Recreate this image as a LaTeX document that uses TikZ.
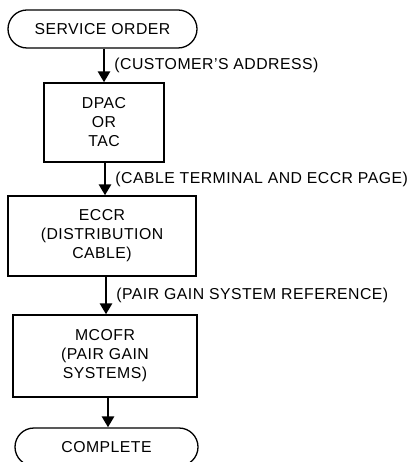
\documentclass[tikz,border=0pt]{standalone}
\usepackage{fontspec}
\setmainfont{Liberation Sans}[LetterSpace=3]
\usetikzlibrary{arrows.meta}
\begin{document}
\begin{tikzpicture}[x=1bp,y=-1bp,
  every node/.style={font=\fontsize{15.8bp}{19bp}\selectfont, inner sep=0pt},
  term/.style={draw, line width=1.3bp, rounded corners=19bp, minimum width=#1, minimum height=38bp},
  box/.style={draw, line width=1.3bp, align=center, minimum width=#1},
  flow/.style={line width=2.8bp, -{Triangle[length=11bp,width=12bp]}},
  lbl/.style={anchor=west, xshift=9bp}
]
\useasboundingbox (0,0) rectangle (412,462);
\node[term=189bp] (so) at (102.5,29) {SERVICE ORDER};
\node[box=120bp, minimum height=79bp] (dpac) at (104,122.5) {DPAC\\OR\\TAC};
\node[box=188bp, minimum height=80bp] (eccr) at (102,236) {ECCR\\(DISTRIBUTION\\CABLE)};
\node[box=184bp, minimum height=82bp] (mcofr) at (105,356) {MCOFR\\(PAIR GAIN\\SYSTEMS)};
\node[term=183bp] (done) at (106.5,447) {COMPLETE};
\draw[flow] (so.south -| 104,0) -- (dpac.north -| 104,0) node[midway, lbl] {(CUSTOMER'S ADDRESS)};
\draw[flow] (dpac.south -| 105,0) -- (eccr.north -| 105,0) node[midway, lbl] {(CABLE TERMINAL AND ECCR PAGE)};
\draw[flow] (eccr.south -| 106,0) -- (mcofr.north -| 106,0) node[midway, lbl] {(PAIR GAIN SYSTEM REFERENCE)};
\draw[flow] (mcofr.south -| 108,0) -- (done.north -| 108,0);
\end{tikzpicture}
\end{document}
